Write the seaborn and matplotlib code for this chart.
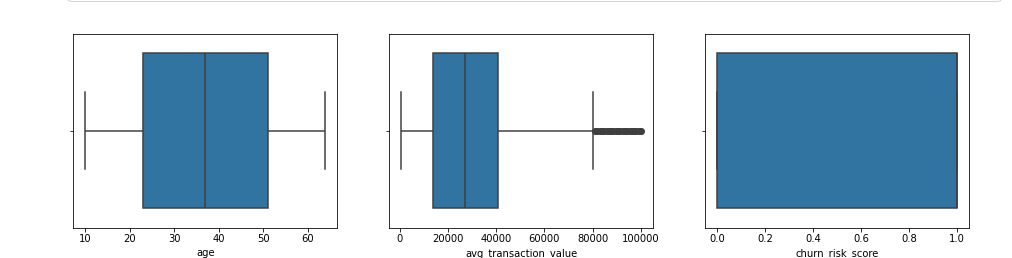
import matplotlib
matplotlib.use("Agg")
import matplotlib.pyplot as plt
from matplotlib.patches import FancyBboxPatch
import seaborn as sns
import pandas as pd

# ---- data ----
age = [10, 23, 37, 51, 64]

avg_transaction_value = [
    600,
    1400, 2000, 2600, 3300, 3900, 4500, 5100, 5800, 6400, 7000, 7600,
    8300, 8900, 9500, 10100, 10800, 11400, 12000, 12600, 13200, 13700,
    13900,
    14600, 15200, 15800, 16400, 17000, 17600, 18200, 18800, 19400, 20000, 20600,
    21200, 21800, 22400, 23000, 23600, 24200, 24800, 25400, 26000, 26700,
    27300,
    27900, 28500, 29100, 29700, 30300, 30900, 31500, 32100, 32700, 33300, 33900,
    34500, 35100, 35700, 36300, 36900, 37500, 38100, 38700, 39300, 40000,
    40700,
    80300,
    81000, 81950, 82900, 83850, 84800, 85750, 86700, 87650, 88600, 89550, 90500,
    91450, 92400, 93350, 94300, 95250, 96200, 97150, 98100, 99050, 100000,
]

churn_risk_score = [0, 0, 1, 1, 1]

columns = ["age", "avg_transaction_value", "churn_risk_score"]
series = {
    "age": pd.Series(age, name="age"),
    "avg_transaction_value": pd.Series(avg_transaction_value, name="avg_transaction_value"),
    "churn_risk_score": pd.Series(churn_risk_score, name="churn_risk_score"),
}

W, H, DPI = 1012, 258, 72
fig = plt.figure(figsize=(W / DPI, H / DPI), dpi=DPI)

# notebook cell frame fragment at the top
frame = FancyBboxPatch((68 / W, 1 - 1.5 / H), (1001 - 68) / W, 0.3,
                       boxstyle="round,pad=0,rounding_size=0.006",
                       transform=fig.transFigure, facecolor="none",
                       edgecolor="#d4d4d4", linewidth=1.0, clip_on=False)
fig.patches.append(frame)

lefts = [73.3, 389.0, 705.0]
width_px = 264.0
top_px, bottom_px = 33.5, 227.5

box_color = "#1f77b4"
line_color = "#3f3f3f"
for left, col in zip(lefts, columns):
    ax = fig.add_axes([left / W, (H - bottom_px) / H, width_px / W, (bottom_px - top_px) / H])
    sns.boxplot(x=series[col], ax=ax, color=box_color, saturation=0.75,
                linecolor=line_color, linewidth=1.5, width=0.8,
                flierprops=dict(marker="o", markersize=6,
                                markerfacecolor=line_color,
                                markeredgecolor=line_color))
    ax.set_ylim(0.5, -0.5)
    ax.set_yticks([0])
    ax.set_yticklabels([""])
    ax.set_xlabel(col, fontsize=10)
    ax.tick_params(labelsize=10)

axes = fig.axes
axes[0].set_xticks([10, 20, 30, 40, 50, 60])
axes[1].set_xticks([0, 20000, 40000, 60000, 80000, 100000])
axes[2].set_xticks([0.0, 0.2, 0.4, 0.6, 0.8, 1.0])

fig.savefig("out.png", dpi=DPI, facecolor="white")
